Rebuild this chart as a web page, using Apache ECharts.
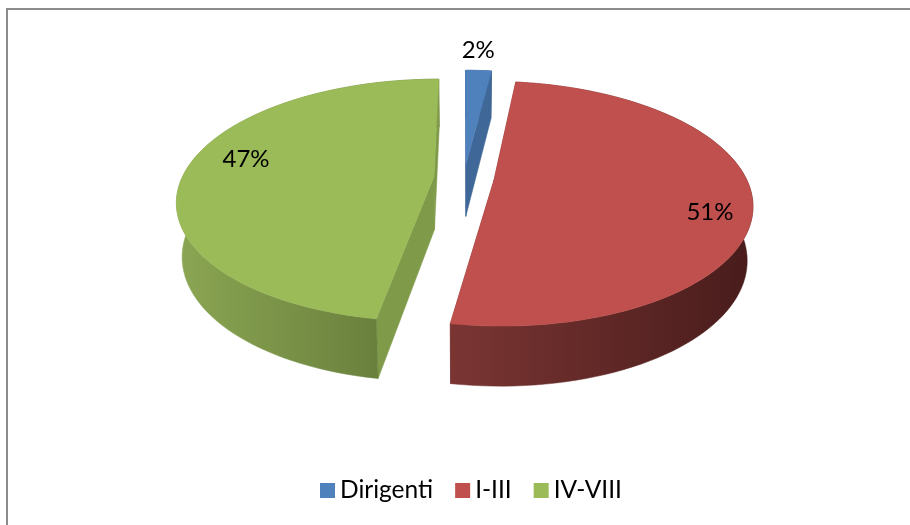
<!DOCTYPE html>
<html><head><meta charset="utf-8">
<style>html,body{margin:0;padding:0;background:#fff}#c{width:910px;height:525px}</style>
<script src="https://cdn.jsdelivr.net/npm/echarts@6/dist/echarts.min.js"></script>
</head><body><div id="c"></div>
<script>
const categories = ['Dirigenti', 'I-III', 'IV-VIII'];
const values = [2, 50.6, 47.4];
const topColors = ['#4f81bd', '#c0504d', '#9bbb59'];
const faceColors = ['#3f6797', '#7a3533', '#7f9a48'];
const wallLeft = ['#3f6797', '#7a3533', '#8ba653'];
const wallRight = ['#35577f', '#481c1b', '#5f7536'];
const labelRadius = [1.27, 0.846, 0.79];
const labelTurn = [-0.7, 9.6, 7];

const total = values.reduce((a, b) => a + b, 0);
const view = { cx: 464, cy: 178, A: 252, B: 117, k: 0.193, explode: 0.12,
               drop: 52.8, sx: 0.98, sy: 1.049 };
const rad = d => d * Math.PI / 180;
function plane(c, r, deg) {
  return [c[0] + r * Math.sin(rad(deg)), c[1] - r * Math.cos(rad(deg))];
}
function proj(p, low) {
  const w = 1 - view.k * p[1];
  const px = view.A * p[0] / w, py = view.B * p[1] / w;
  return low ? [view.cx + view.sx * px, view.cy + view.sy * py + view.drop]
             : [view.cx + px, view.cy + py];
}
function arc(c, a0, a1) {
  const n = Math.max(4, Math.ceil((a1 - a0) / 2)), pts = [];
  for (let i = 0; i <= n; i++) pts.push(plane(c, 1, a0 + (a1 - a0) * i / n));
  return pts;
}
function renderSlice(params, api) {
  const idx = params.seriesIndex;
  const a0 = api.value(0) / total * 360, a1 = api.value(1) / total * 360;
  const mid = (a0 + a1) / 2;
  const c = plane([0, 0], view.explode, mid);
  const rim = arc(c, a0, a1);
  const topRim = rim.map(p => proj(p, false)), lowRim = rim.map(p => proj(p, true));
  const cTop = proj(c, false), cLow = proj(c, true);
  const xs = topRim.map(p => p[0]);
  const grad = {
    type: 'linear', global: true,
    x: Math.min(...xs), y: 0, x2: Math.max(...xs), y2: 0,
    colorStops: [{ offset: 0, color: wallLeft[idx] }, { offset: 1, color: wallRight[idx] }]
  };
  const last = topRim.length - 1;
  const poly = (points, fill) => ({ type: 'polygon', shape: { points }, style: { fill, stroke: fill, lineWidth: 0.5 } });
  const labelPt = proj(plane(c, labelRadius[idx], mid + labelTurn[idx]), false);
  const faces = [
    { y: rim[0][1], el: poly([topRim[0], lowRim[0], cLow, cTop], faceColors[idx]) },
    { y: rim[last][1], el: poly([topRim[last], lowRim[last], cLow, cTop], faceColors[idx]) }
  ];
  const wall = poly(topRim.concat(lowRim.slice().reverse()), grad);
  return {
    type: 'group',
    children: [
      ...faces.filter(f => f.y > 0).map(f => f.el),
      wall,
      ...faces.filter(f => f.y <= 0).map(f => f.el),
      poly(topRim.concat([cTop]), topColors[idx]),
      {
        type: 'text', z2: 10,
        style: {
          x: labelPt[0], y: labelPt[1],
          text: Math.round(values[idx] / total * 100) + '%',
          fill: '#000', font: '24px Lato',
          align: 'center', verticalAlign: 'middle'
        }
      }
    ]
  };
}
let running = 0;
const series = categories.map((name, i) => {
  const start = running; running += values[i];
  return {
    type: 'custom', name, coordinateSystem: 'none',
    itemStyle: { color: topColors[i] },
    renderItem: renderSlice,
    data: [[start, running]],
    silent: true, animation: false
  };
});
const chart = echarts.init(document.getElementById('c'), null, { renderer: 'canvas' });
chart.setOption({
  animation: false,
  backgroundColor: '#fff',
  legend: {
    data: categories, top: 473, left: 315, icon: 'rect',
    itemWidth: 15, itemHeight: 15, itemGap: 22,
    textStyle: { fontFamily: 'Lato', fontSize: 24.5, color: '#000' }
  },
  graphic: [
    { type: 'line', shape: { x1: 7, y1: 9, x2: 7, y2: 525 }, style: { stroke: '#8c8c8c', lineWidth: 2 } },
    { type: 'line', shape: { x1: 6, y1: 9, x2: 910, y2: 9 }, style: { stroke: '#8c8c8c', lineWidth: 2 } }
  ],
  series
});
</script></body></html>
